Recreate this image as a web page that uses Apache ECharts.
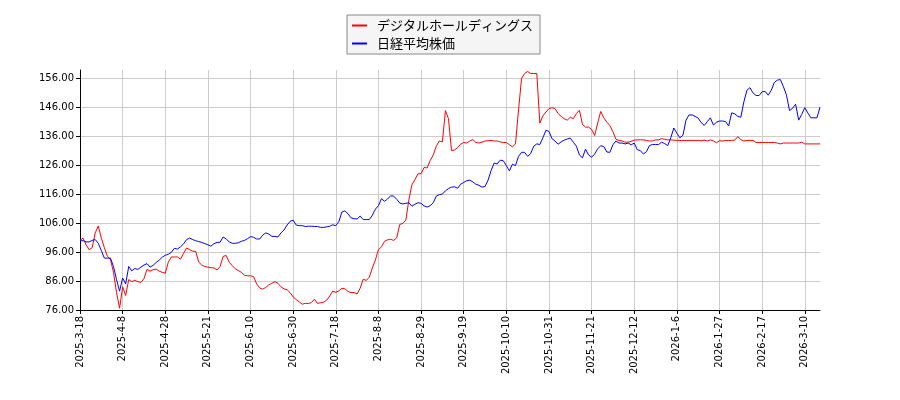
<!DOCTYPE html>
<html><head><meta charset="utf-8">
<script src="https://cdn.jsdelivr.net/npm/echarts@6/dist/echarts.min.js"></script>
<style>html,body{margin:0;padding:0;background:#fff}#c{width:900px;height:400px}</style>
</head><body><div id="c"></div>
<script>
const dates = [
'2025-3-18','2025-3-19','2025-3-21','2025-3-24','2025-3-25','2025-3-26','2025-3-27','2025-3-28','2025-3-31',
'2025-4-1','2025-4-2','2025-4-3','2025-4-4','2025-4-7','2025-4-8','2025-4-9','2025-4-10','2025-4-11','2025-4-14','2025-4-15','2025-4-16','2025-4-17','2025-4-18','2025-4-21','2025-4-22','2025-4-23','2025-4-24','2025-4-25','2025-4-28','2025-4-30',
'2025-5-1','2025-5-2','2025-5-7','2025-5-8','2025-5-9','2025-5-12','2025-5-13','2025-5-14','2025-5-15','2025-5-16','2025-5-19','2025-5-20','2025-5-21','2025-5-22','2025-5-23','2025-5-26','2025-5-27','2025-5-28','2025-5-29','2025-5-30',
'2025-6-2','2025-6-3','2025-6-4','2025-6-5','2025-6-6','2025-6-9','2025-6-10','2025-6-11','2025-6-12','2025-6-13','2025-6-16','2025-6-17','2025-6-18','2025-6-19','2025-6-20','2025-6-23','2025-6-24','2025-6-25','2025-6-26','2025-6-27','2025-6-30',
'2025-7-1','2025-7-2','2025-7-3','2025-7-4','2025-7-7','2025-7-8','2025-7-9','2025-7-10','2025-7-11','2025-7-14','2025-7-15','2025-7-16','2025-7-17','2025-7-18','2025-7-22','2025-7-23','2025-7-24','2025-7-25','2025-7-28','2025-7-29','2025-7-30','2025-7-31',
'2025-8-1','2025-8-4','2025-8-5','2025-8-6','2025-8-7','2025-8-8','2025-8-12','2025-8-13','2025-8-14','2025-8-15','2025-8-18','2025-8-19','2025-8-20','2025-8-21','2025-8-22','2025-8-25','2025-8-26','2025-8-27','2025-8-28','2025-8-29',
'2025-9-1','2025-9-2','2025-9-3','2025-9-4','2025-9-5','2025-9-8','2025-9-9','2025-9-10','2025-9-11','2025-9-12','2025-9-16','2025-9-17','2025-9-18','2025-9-19','2025-9-22','2025-9-24','2025-9-25','2025-9-26','2025-9-29','2025-9-30',
'2025-10-1','2025-10-2','2025-10-3','2025-10-6','2025-10-7','2025-10-8','2025-10-9','2025-10-10','2025-10-14','2025-10-15','2025-10-16','2025-10-17','2025-10-20','2025-10-21','2025-10-22','2025-10-23','2025-10-24','2025-10-27','2025-10-28','2025-10-29','2025-10-30','2025-10-31',
'2025-11-4','2025-11-5','2025-11-6','2025-11-7','2025-11-10','2025-11-11','2025-11-12','2025-11-13','2025-11-14','2025-11-17','2025-11-18','2025-11-19','2025-11-20','2025-11-21','2025-11-25','2025-11-26','2025-11-27','2025-11-28',
'2025-12-1','2025-12-2','2025-12-3','2025-12-4','2025-12-5','2025-12-8','2025-12-9','2025-12-10','2025-12-11','2025-12-12','2025-12-15','2025-12-16','2025-12-17','2025-12-18','2025-12-19','2025-12-22','2025-12-23','2025-12-24','2025-12-25','2025-12-26','2025-12-29','2025-12-30',
'2026-1-5','2026-1-6','2026-1-7','2026-1-8','2026-1-9','2026-1-13','2026-1-14','2026-1-15','2026-1-16','2026-1-19','2026-1-20','2026-1-21','2026-1-22','2026-1-23','2026-1-26','2026-1-27','2026-1-28','2026-1-29','2026-1-30',
'2026-2-2','2026-2-3','2026-2-4','2026-2-5','2026-2-6','2026-2-9','2026-2-10','2026-2-12','2026-2-13','2026-2-16','2026-2-17','2026-2-18','2026-2-19','2026-2-20','2026-2-24','2026-2-25','2026-2-26','2026-2-27',
'2026-3-2','2026-3-3','2026-3-4','2026-3-5','2026-3-6','2026-3-9','2026-3-10','2026-3-11','2026-3-12','2026-3-13','2026-3-16','2026-3-17'
];

const seriesNames = ['デジタルホールディングス', '日経平均株価'];

const digitalValues = [
100.0,100.8,98.5,96.8,97.5,102.6,105.0,100.8,97.5,94.5,
93.5,89.0,82.0,76.6,84.0,81.0,86.5,85.8,86.2,85.8,
85.5,86.8,90.0,89.4,89.9,90.1,89.4,89.0,88.7,92.5,
94.3,94.3,94.3,93.5,95.5,97.4,96.8,96.3,96.2,92.5,
91.5,91.0,90.8,90.6,90.5,89.8,91.0,94.5,94.8,92.5,
91.3,90.2,89.6,89.0,88.0,87.8,87.8,87.5,85.0,83.6,
83.2,83.8,84.7,85.2,85.8,85.2,84.0,83.3,83.0,82.0,
80.5,79.6,78.8,78.0,78.3,78.2,78.6,79.7,78.3,78.5,
78.7,79.4,80.8,82.5,82.1,82.6,83.5,83.3,82.4,82.0,
82.0,81.5,83.5,86.6,86.2,87.3,90.5,93.3,96.8,97.8,
99.7,100.2,100.4,100.0,100.9,105.5,105.9,107.0,114.0,119.2,
121.0,123.0,123.0,125.2,125.0,127.6,129.5,132.5,134.3,134.0,
144.8,142.0,131.0,131.2,132.0,133.2,133.8,133.6,134.3,134.8,
133.8,133.6,133.9,134.3,134.4,134.5,134.3,134.3,134.0,133.8,
133.8,133.0,132.3,133.3,145.0,155.9,157.6,158.3,157.6,157.6,
157.6,140.5,143.0,144.3,145.5,145.8,145.5,143.8,142.8,142.0,
141.5,142.5,142.0,143.8,144.9,140.0,139.1,139.1,138.3,136.2,
140.5,144.5,142.3,140.8,139.6,137.5,134.9,134.5,134.3,133.9,
133.9,134.2,134.6,134.7,134.7,134.7,134.5,134.3,134.3,134.7,
134.7,135.1,134.9,134.7,134.7,134.6,134.5,134.5,134.5,134.5,
134.5,134.5,134.5,134.5,134.4,134.6,134.3,134.7,134.3,133.7,
134.4,134.3,134.5,134.5,134.5,134.6,135.8,134.8,134.3,134.5,
134.5,134.5,133.8,133.8,133.8,133.8,133.8,133.8,133.8,133.6,
133.3,133.6,133.6,133.6,133.6,133.6,133.6,133.9,133.3,133.3,
133.3,133.3,133.3,133.3
];

const nikkeiValues = [
99.9,99.9,99.5,99.5,100.0,100.3,99.0,96.5,93.9,93.9,
93.9,91.0,86.5,82.5,87.0,85.0,91.0,89.5,90.3,90.0,
90.8,91.5,92.0,90.8,91.4,92.4,93.2,94.2,94.9,95.2,
95.9,97.3,97.0,97.8,98.8,100.3,100.8,100.3,99.9,99.6,
99.3,98.9,98.5,98.0,98.9,99.3,99.4,101.2,100.5,99.5,
99.0,99.0,99.2,99.7,100.0,100.6,101.3,101.1,100.5,100.5,
101.8,102.6,102.2,101.4,101.4,101.2,102.6,103.6,105.3,106.6,
107.0,105.3,105.1,105.1,104.8,104.9,104.9,104.8,104.8,104.5,
104.5,104.7,104.9,105.4,105.1,106.5,109.8,110.2,109.2,107.8,
107.5,107.4,108.4,107.2,107.2,107.2,108.7,110.8,112.0,114.4,
113.5,114.3,115.4,115.3,114.2,112.9,112.6,112.8,113.0,111.8,
112.5,113.0,112.8,111.9,111.5,112.0,113.0,115.3,115.8,116.0,
117.1,117.9,118.4,118.5,118.0,119.4,120.0,120.6,120.8,120.2,
119.4,119.0,118.4,118.6,120.8,124.1,126.7,126.4,127.7,127.5,
125.8,124.0,126.3,125.8,129.0,130.4,130.4,129.0,130.0,132.5,
133.3,133.1,135.4,138.0,137.6,135.1,134.3,133.2,134.0,134.6,
135.0,135.3,133.9,132.5,129.5,128.5,131.5,129.5,128.7,129.8,
131.6,132.7,132.4,130.5,130.4,133.0,134.3,133.6,133.6,133.3,
133.6,133.0,133.6,131.3,131.0,129.8,130.6,132.7,133.1,133.1,
133.1,133.9,133.4,132.7,135.4,138.8,137.0,135.4,136.3,141.5,
143.3,143.3,142.8,142.2,140.6,139.7,141.0,142.3,139.8,140.8,
141.2,141.2,141.0,139.5,144.0,143.7,142.8,142.5,147.8,151.8,
152.7,150.9,150.0,150.0,151.3,151.4,150.1,151.8,154.5,155.3,
155.5,153.0,150.1,144.8,145.6,147.0,141.5,143.5,145.8,144.0,
142.3,142.3,142.3,146.0
];

const yTicks = [76, 86, 96, 106, 116, 126, 136, 146, 156];
const yMin = 76, yMax = 158.8, xTickEvery = 14;

const chart = echarts.init(document.getElementById('c'), null, {renderer: 'canvas'});
const numFont = 'DejaVu Sans';
chart.setOption({
  animation: false,
  backgroundColor: '#ffffff',
  legend: {
    left: 347, top: 15,
    orient: 'vertical',
    padding: [4, 7, 4, 5],
    itemGap: 5,
    itemWidth: 15, itemHeight: 2,
    icon: 'rect',
    backgroundColor: '#f5f5f5',
    borderColor: '#888888', borderWidth: 1, borderRadius: 0,
    textStyle: {fontFamily: 'Noto Sans CJK JP', fontSize: 13, color: '#000', padding: [0, 0, 0, 5]},
    data: seriesNames
  },
  grid: {left: 80, right: 80, top: 70, bottom: 90, containLabel: false},
  xAxis: {
    type: 'category',
    data: dates,
    boundaryGap: false,
    axisLine: {lineStyle: {color: '#000', width: 1}},
    axisTick: {show: true, interval: xTickEvery - 1, length: 4, lineStyle: {color: '#000'}},
    axisLabel: {interval: xTickEvery - 1, rotate: 90, fontFamily: numFont, fontSize: 10, color: '#000', margin: 6},
    splitLine: {show: true, interval: xTickEvery - 1, lineStyle: {color: '#cccccc', width: 1}}
  },
  yAxis: {
    type: 'value',
    min: yMin, max: yMax, interval: 10,
    axisLine: {show: true, lineStyle: {color: '#000', width: 1}},
    axisTick: {show: true, length: 4, lineStyle: {color: '#000'}, customValues: yTicks},
    axisLabel: {fontFamily: numFont, fontSize: 10, color: '#000', margin: 6,
      customValues: yTicks, formatter: v => Number(v).toFixed(2)},
    splitLine: {show: true, lineStyle: {color: '#cccccc', width: 1}}
  },
  series: [
    {name: seriesNames[0], type: 'line', data: digitalValues, showSymbol: false, symbol: 'none',
     lineStyle: {color: '#ff0000', width: 1}, itemStyle: {color: '#ff0000'}},
    {name: seriesNames[1], type: 'line', data: nikkeiValues, showSymbol: false, symbol: 'none',
     lineStyle: {color: '#0000ff', width: 1}, itemStyle: {color: '#0000ff'}}
  ]
});
</script></body></html>
